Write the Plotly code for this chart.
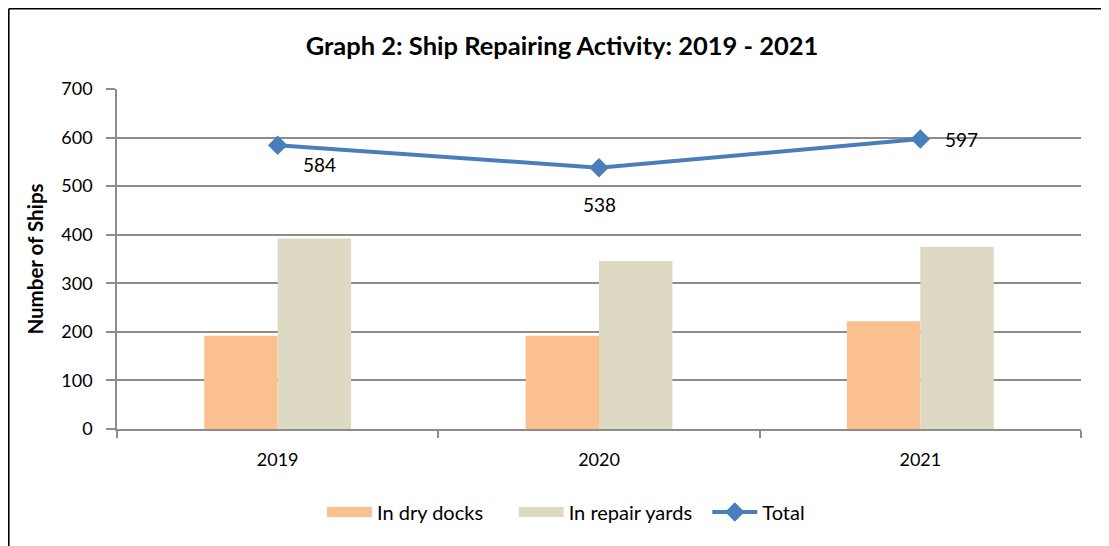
import plotly.graph_objects as go

years = ["2019", "2020", "2021"]
dry_docks = [192, 192, 222]
repair_yards = [392, 346, 375]
total = [584, 538, 597]
y_ticks = [0, 100, 200, 300, 400, 500, 600, 700]

FONT = "Lato, Open Sans, sans-serif"
GRID = "#8c8c8c"
C_DRY, C_REP, C_TOT = "#fac090", "#ddd9c3", "#4a7ebb"
NB = "\u00a0"

fig = go.Figure()
fig.add_trace(go.Bar(x=years, y=dry_docks, name="In dry docks", showlegend=False,
                     marker=dict(color=C_DRY, line=dict(width=0))))
fig.add_trace(go.Bar(x=years, y=repair_yards, name="In repair yards", showlegend=False,
                     marker=dict(color=C_REP, line=dict(width=0))))
fig.add_trace(go.Scatter(x=years, y=total, name="Total", mode="lines+markers", showlegend=False,
                         line=dict(color=C_TOT, width=4),
                         marker=dict(symbol="diamond", size=15, color=C_TOT)))

# legend entries (wide swatches like the original)
fig.add_trace(go.Scatter(x=[None], y=[None], name="In dry docks" + NB * 5, mode="lines",
                         line=dict(color=C_DRY, width=14)))
fig.add_trace(go.Scatter(x=[None], y=[None], name="In repair yards" + NB * 2, mode="lines",
                         line=dict(color=C_REP, width=14)))
fig.add_trace(go.Scatter(x=[None], y=[None], name="Total", mode="lines+markers",
                         line=dict(color=C_TOT, width=4),
                         marker=dict(symbol="diamond", size=15, color=C_TOT)))

offsets = [(42, -19), (0, -37), (41, 0)]
for i, (v, (dx, dy)) in enumerate(zip(total, offsets)):
    fig.add_annotation(x=i, y=v, text=str(v), showarrow=False,
                       xshift=dx, yshift=dy, font=dict(size=19, color="black", family=FONT))

# page has an 8px body margin; figure drawn from (8,8)
W, H = 1101, 538
ml, mt = 109, 81
pw, ph = 964, 340
mr, mb = W - ml - pw, H - mt - ph
bx = (0.8 - ml) / pw
by = 1 + (mt - 0.8) / ph
fig.add_shape(type="line", xref="paper", yref="paper", x0=bx, x1=bx, y0=-1, y1=by,
              line=dict(color="black", width=1.6))
fig.add_shape(type="line", xref="paper", yref="paper", x0=bx, x1=1.2, y0=by, y1=by,
              line=dict(color="black", width=1.6))

fig.update_layout(
    width=W, height=H,
    margin=dict(l=ml, r=mr, t=mt, b=mb),
    paper_bgcolor="white", plot_bgcolor="white",
    font=dict(family=FONT, size=18, color="black"),
    title=dict(text="<b>Graph 2: Ship Repairing Activity: 2019 - 2021</b>",
               x=554 / W, xref="container", xanchor="center",
               y=1 - 38 / H, yref="container", yanchor="middle",
               font=dict(size=25.5, family=FONT, color="black")),
    barmode="group", bargap=0.543, bargroupgap=0,
    showlegend=True,
    legend=dict(orientation="h", x=558 / W, xref="container", xanchor="center",
                y=1 - 504 / H, yref="container", yanchor="middle",
                font=dict(size=20, family=FONT), traceorder="normal",
                itemwidth=45),
    xaxis=dict(type="category", range=[-0.5, 2.5], tickson="boundaries", ticks="outside", ticklen=7,
               tickcolor=GRID, tickwidth=1.5, showline=True, linecolor=GRID, linewidth=1.5,
               showgrid=False, tickfont=dict(size=18), ticklabelstandoff=14, tickangle=0),
    yaxis=dict(range=[0, 700], tickvals=y_ticks, ticks="outside", ticklen=9,
               tickcolor=GRID, tickwidth=1.5, showline=True, linecolor=GRID, linewidth=1.5,
               showgrid=True, gridcolor=GRID, gridwidth=1.5, zeroline=False,
               tickfont=dict(size=18), ticklabelstandoff=10,
               title=dict(text="<b>Number of Ships</b>", font=dict(size=20.5), standoff=12)),
)

fig.write_html("out.html")
